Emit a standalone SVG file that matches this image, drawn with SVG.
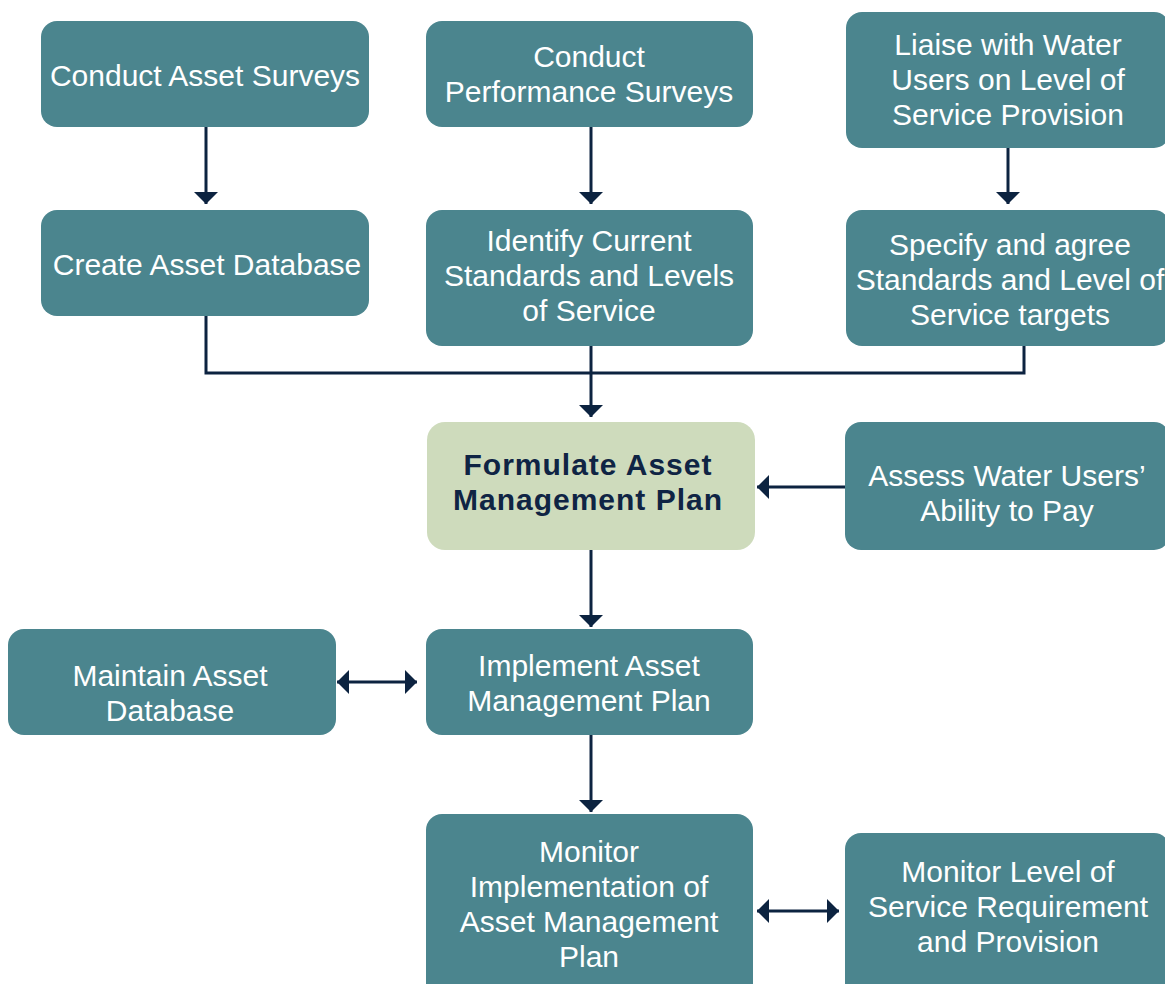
<svg xmlns="http://www.w3.org/2000/svg" width="1165" height="984" viewBox="0 0 1165 984">
<defs>
<style>
.box{fill:#4B858E;}
.hl{fill:#CEDBBC;}
.t{font-family:"Liberation Sans",Arial,sans-serif;font-size:30px;fill:#FFFFFF;text-anchor:middle;}
.tb{font-family:"Liberation Sans",Arial,sans-serif;font-size:30px;font-weight:700;letter-spacing:1px;fill:#0F2444;text-anchor:middle;}
.c{fill:none;stroke:#0C2340;stroke-width:3;}
</style>
<marker id="ah" viewBox="0 0 12 24" refX="12" refY="12" markerWidth="12" markerHeight="24" markerUnits="userSpaceOnUse" orient="auto-start-reverse">
<path d="M0,0 L12,12 L0,24 Z" fill="#0C2340"/>
</marker>
</defs>
<rect width="1165" height="984" fill="#FFFFFF"/>
<g id="connectors">
<path class="c" d="M206,127 V204" marker-end="url(#ah)"/>
<path class="c" d="M591,127 V204" marker-end="url(#ah)"/>
<path class="c" d="M1008,148 V204" marker-end="url(#ah)"/>
<path class="c" d="M206,316 V373 H1024 V346"/>
<path class="c" d="M591,346 V417" marker-end="url(#ah)"/>
<path class="c" d="M845,487 H757" marker-end="url(#ah)"/>
<path class="c" d="M591,550 V627" marker-end="url(#ah)"/>
<path class="c" d="M337,682 H417" marker-start="url(#ah)" marker-end="url(#ah)"/>
<path class="c" d="M591,735 V812" marker-end="url(#ah)"/>
<path class="c" d="M757,911 H839" marker-start="url(#ah)" marker-end="url(#ah)"/>
</g>
<g id="conduct-asset-surveys">
<rect class="box" x="41" y="21" width="328" height="106" rx="16"/>
<text class="t" x="205" y="86">Conduct Asset Surveys</text>
</g>
<g id="conduct-performance-surveys">
<rect class="box" x="426" y="21" width="327" height="106" rx="16"/>
<text class="t" x="589" y="67">Conduct</text>
<text class="t" x="589" y="102">Performance Surveys</text>
</g>
<g id="liaise">
<rect class="box" x="846" y="12" width="324" height="136" rx="16"/>
<text class="t" x="1008" y="55">Liaise with Water</text>
<text class="t" x="1008" y="90">Users on Level of</text>
<text class="t" x="1008" y="125">Service Provision</text>
</g>
<g id="create-asset-database">
<rect class="box" x="41" y="210" width="328" height="106" rx="16"/>
<text class="t" x="207" y="275">Create Asset Database</text>
</g>
<g id="identify-current">
<rect class="box" x="426" y="210" width="327" height="136" rx="16"/>
<text class="t" x="589" y="251">Identify Current</text>
<text class="t" x="589" y="286">Standards and Levels</text>
<text class="t" x="589" y="321">of Service</text>
</g>
<g id="specify-agree">
<rect class="box" x="846" y="210" width="324" height="136" rx="16"/>
<text class="t" x="1010" y="255">Specify and agree</text>
<text class="t" x="1010" y="290">Standards and Level of</text>
<text class="t" x="1010" y="325">Service targets</text>
</g>
<g id="formulate-plan">
<rect class="hl" x="427" y="422" width="328" height="128" rx="18"/>
<text class="tb" x="588" y="475">Formulate Asset</text>
<text class="tb" x="588" y="510">Management Plan</text>
</g>
<g id="assess-ability">
<rect class="box" x="845" y="422" width="325" height="128" rx="16"/>
<text class="t" x="1007" y="486">Assess Water Users’</text>
<text class="t" x="1007" y="521">Ability to Pay</text>
</g>
<g id="maintain-database">
<rect class="box" x="8" y="629" width="328" height="106" rx="16"/>
<text class="t" x="170" y="686">Maintain Asset</text>
<text class="t" x="170" y="721">Database</text>
</g>
<g id="implement-plan">
<rect class="box" x="426" y="629" width="327" height="106" rx="16"/>
<text class="t" x="589" y="676">Implement Asset</text>
<text class="t" x="589" y="711">Management Plan</text>
</g>
<g id="monitor-implementation">
<rect class="box" x="426" y="814" width="327" height="190" rx="16"/>
<text class="t" x="589" y="862">Monitor</text>
<text class="t" x="589" y="897">Implementation of</text>
<text class="t" x="589" y="932">Asset Management</text>
<text class="t" x="589" y="967">Plan</text>
</g>
<g id="monitor-level">
<rect class="box" x="845" y="833" width="325" height="171" rx="16"/>
<text class="t" x="1008" y="882">Monitor Level of</text>
<text class="t" x="1008" y="917">Service Requirement</text>
<text class="t" x="1008" y="952">and Provision</text>
</g>
</svg>
